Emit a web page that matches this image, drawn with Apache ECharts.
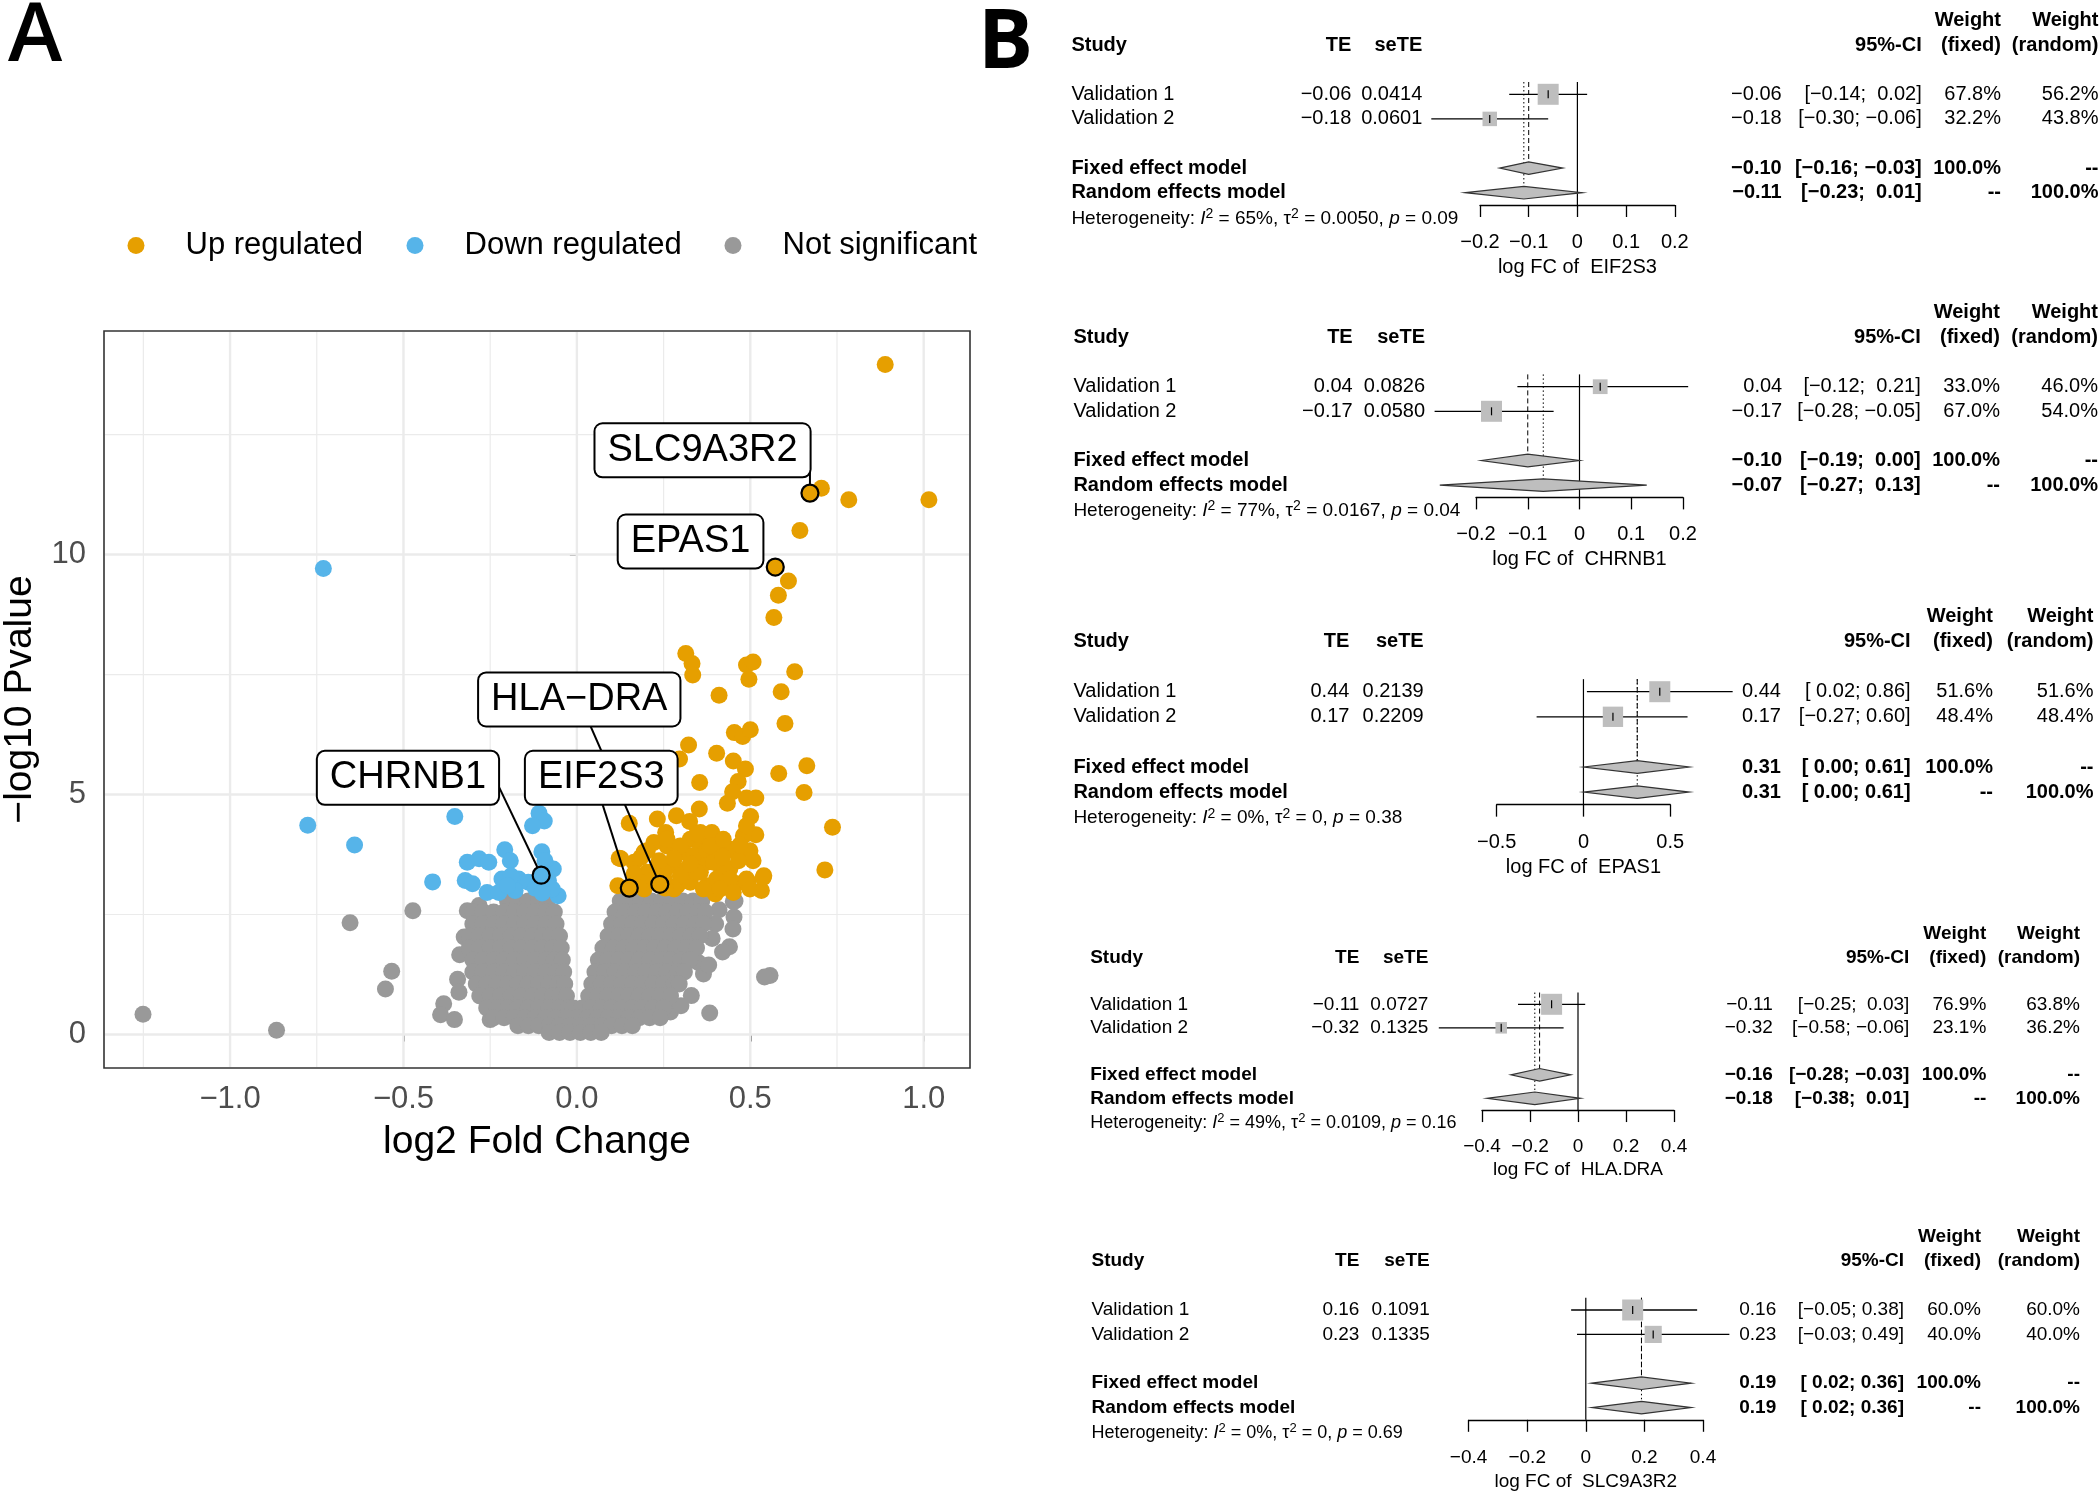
<!DOCTYPE html>
<html><head><meta charset="utf-8">
<script src="https://cdn.jsdelivr.net/npm/echarts@6/dist/echarts.min.js"></script>
<style>html,body{margin:0;padding:0;background:#fff}#c{width:2100px;height:1492px}</style>
</head><body><div id="c"></div>
<script>
// ================= DATA: volcano plot =================
const legendNames = ['Up regulated', 'Down regulated', 'Not significant'];
const upPoints = [
 [0.889,13.96],[0.705,11.38],[0.784,11.14],[1.015,11.14],[0.643,10.5],[0.61,9.45],[0.581,9.15],[0.568,8.69],
 [0.314,7.94],[0.332,7.73],[0.334,7.49],[0.489,7.70],[0.508,7.76],[0.496,7.40],[0.628,7.56],[0.41,7.07],[0.589,7.14],
 [0.60,6.48],[0.454,6.29],[0.478,6.21],[0.50,6.35],[0.322,6.03],[0.403,5.86],[0.296,5.74],[0.451,5.70],[0.486,5.53],
 [0.465,5.27],[0.582,5.44],[0.663,5.60],[0.354,5.25],[0.449,5.06],[0.434,4.82],[0.489,4.93],[0.516,4.93],[0.655,5.04],
 [0.353,4.70],[0.501,4.54],[0.287,4.56],[0.232,4.49],[0.325,4.44],[0.151,4.40],[0.737,4.32],[0.516,4.16],[0.715,3.43],
 [0.539,3.31],[0.532,3.0],[0.122,3.67],[0.165,3.59],[0.118,3.10],[0.494,3.17],
 [0.256,4.21],[0.26,3.93],[0.222,4.0],[0.194,3.80],[0.327,4.07],[0.356,4.21],[0.389,4.21],[0.356,3.93],[0.394,3.93],
 [0.437,3.86],[0.308,3.80],[0.337,3.66],[0.375,3.59],[0.413,3.52],[0.28,3.52],[0.308,3.38],[0.356,3.38],[0.403,3.24],
 [0.432,3.31],[0.46,3.14],[0.213,3.38],[0.251,3.24],[0.289,3.10],[0.327,3.17],[0.375,3.10],[0.399,2.93],[0.194,3.03],
 [0.489,3.24],[0.127,3.66],[0.203,3.83],[0.26,4.07],[0.298,3.93],[0.337,3.73],[0.346,4.18],[0.441,3.86],[0.375,3.86],
 [0.394,3.59],[0.441,3.45],[0.499,3.83],[0.508,3.62],[0.537,3.27],[0.184,3.69],[0.203,3.38],[0.251,3.38],[0.298,3.31],
 [0.346,3.38],[0.441,3.24],[0.489,3.17],[0.28,3.03],[0.365,3.03],[0.413,3.03],[0.451,2.96],[0.499,3.03],[0.184,3.17],
 [0.222,3.24],[0.327,3.55],[0.28,3.66],[0.384,3.93],[0.422,4.07],[0.48,4.14],[0.489,4.35],[0.165,3.35],[0.237,3.62],
 [0.466,3.62],[0.47,3.95],[0.255,3.05],[0.42,3.7]
];
const downPoints = [
 [-0.731,9.71],[-0.776,4.36],[-0.641,3.95],[-0.352,4.54],[-0.416,3.18],[-0.109,4.61],[-0.094,4.45],[-0.128,4.35],
 [-0.101,3.81],[-0.068,3.45],[-0.092,3.62],[-0.316,3.59],[-0.282,3.66],[-0.254,3.59],[-0.208,3.85],[-0.192,3.62],
 [-0.322,3.21],[-0.301,3.14],[-0.259,2.96],[-0.216,3.24],[-0.168,3.24],[-0.14,3.17],[-0.225,2.96],[-0.178,3.0],
 [-0.082,3.21],[-0.054,2.89],[-0.071,3.03],[-0.19,3.3],[-0.12,3.05],[-0.1,2.95],[-0.2,3.1]
];
// isolated non-significant points
const nsPoints = [
 [-1.251,0.42],[-0.866,0.09],[-0.654,2.33],[-0.473,2.58],[-0.534,1.32],[-0.552,0.95],[0.557,1.23],[0.541,1.2],[0.383,0.45],
 [-0.316,2.58],[-0.282,2.69],[-0.325,2.03],[-0.338,1.66],[-0.344,1.15],[-0.34,0.88],[-0.384,0.64],[-0.393,0.41],
 [-0.353,0.31],[-0.25,0.31],[0.456,2.78],[0.453,2.45],[0.45,2.2],[0.44,1.83],[0.42,1.72],[0.40,2.3],[0.41,2.6],
 [0.39,2.0],[0.365,1.26],[0.33,0.81],[0.27,0.47],[0.30,0.6],[0.35,1.5],[0.38,1.45],[0.451,2.77]
];
// dense non-significant cloud, read row by row: [y, [x values]]
const nsCloudRows = [
 [2.78, [-0.20,-0.17,-0.14,-0.11,-0.085]],
 [2.55, [-0.30,-0.27,-0.24,-0.21,-0.18,-0.15,-0.12,-0.09,-0.065]],
 [2.30, [-0.30,-0.27,-0.24,-0.21,-0.18,-0.15,-0.12,-0.09,-0.06]],
 [2.05, [-0.31,-0.28,-0.25,-0.22,-0.19,-0.16,-0.13,-0.10,-0.075,-0.05]],
 [1.80, [-0.31,-0.28,-0.25,-0.22,-0.19,-0.16,-0.13,-0.10,-0.07,-0.045]],
 [1.55, [-0.30,-0.27,-0.24,-0.21,-0.18,-0.15,-0.12,-0.09,-0.065,-0.042]],
 [1.30, [-0.30,-0.27,-0.24,-0.21,-0.18,-0.15,-0.12,-0.09,-0.06,-0.038]],
 [1.05, [-0.29,-0.26,-0.23,-0.20,-0.17,-0.14,-0.11,-0.08,-0.055,-0.035]],
 [0.80, [-0.28,-0.25,-0.22,-0.19,-0.16,-0.13,-0.10,-0.07,-0.05,-0.03]],
 [0.55, [-0.26,-0.23,-0.20,-0.17,-0.14,-0.11,-0.08,-0.05,-0.025,-0.01]],
 [2.78, [0.125,0.155,0.185,0.215,0.245,0.275,0.305,0.335,0.36]],
 [2.55, [0.11,0.14,0.17,0.20,0.23,0.26,0.29,0.32,0.35,0.37]],
 [2.30, [0.10,0.13,0.16,0.19,0.22,0.25,0.28,0.31,0.34,0.365]],
 [2.05, [0.09,0.12,0.15,0.18,0.21,0.24,0.27,0.30,0.33,0.355]],
 [1.80, [0.075,0.105,0.135,0.165,0.195,0.225,0.255,0.285,0.315,0.345]],
 [1.55, [0.062,0.09,0.12,0.15,0.18,0.21,0.24,0.27,0.30,0.325]],
 [1.30, [0.052,0.08,0.11,0.14,0.17,0.20,0.23,0.26,0.29,0.31]],
 [1.05, [0.043,0.07,0.10,0.13,0.16,0.19,0.22,0.25,0.28,0.295]],
 [0.80, [0.034,0.06,0.09,0.12,0.15,0.18,0.21,0.24,0.27]],
 [0.55, [0.015,0.04,0.07,0.10,0.13,0.16,0.19,0.22,0.25]],
 [0.35, [-0.24,-0.21,-0.18,-0.15,-0.12,-0.09,-0.06,-0.03,0,0.03,0.06,0.09,0.12,0.15,0.18,0.21,0.24]],
 [0.18, [-0.17,-0.14,-0.11,-0.08,-0.05,-0.02,0.01,0.04,0.07,0.10,0.13,0.16]],
 [0.04, [-0.08,-0.05,-0.02,0.01,0.04,0.07]]
];
const labelGenes = ['SLC9A3R2', 'EPAS1', 'HLA\u2212DRA', 'CHRNB1', 'EIF2S3'];
const labelX = [0.672, 0.572, 0.239, -0.103, 0.151];
const labelY = [11.28, 9.74, 3.13, 3.32, 3.05];
const labelClass = ['Up regulated', 'Up regulated', 'Up regulated', 'Down regulated', 'Up regulated'];
const volcanoXTicks = [-1, -0.5, 0, 0.5, 1];
const volcanoXMinor = [-1.25, -0.75, -0.25, 0.25, 0.75];
const volcanoYTicks = [0, 5, 10];
const volcanoYMinor = [2.5, 7.5, 12.5];

// ================= DATA: forest plots =================
const genes = ['EIF2S3', 'CHRNB1', 'EPAS1', 'HLA.DRA', 'SLC9A3R2'];
const studyNames = ['Validation 1', 'Validation 2'];
const studyTE = [[-0.06,-0.18],[0.04,-0.17],[0.44,0.17],[-0.11,-0.32],[0.16,0.23]];
const studySeTE = [[0.0414,0.0601],[0.0826,0.0580],[0.2139,0.2209],[0.0727,0.1325],[0.1091,0.1335]];
const studyLower = [[-0.14,-0.30],[-0.12,-0.28],[0.02,-0.27],[-0.25,-0.58],[-0.05,-0.03]];
const studyUpper = [[0.02,-0.06],[0.21,-0.05],[0.86,0.60],[0.03,-0.06],[0.38,0.49]];
const weightFixed = [[67.8,32.2],[33.0,67.0],[51.6,48.4],[76.9,23.1],[60.0,40.0]];
const weightRandom = [[56.2,43.8],[46.0,54.0],[51.6,48.4],[63.8,36.2],[60.0,40.0]];
const fixedEst = [-0.10,-0.10,0.31,-0.16,0.19];
const fixedLower = [-0.16,-0.19,0.00,-0.28,0.02];
const fixedUpper = [-0.03,0.00,0.61,-0.03,0.36];
const randomEst = [-0.11,-0.07,0.31,-0.18,0.19];
const randomLower = [-0.23,-0.27,0.00,-0.38,0.02];
const randomUpper = [0.01,0.13,0.61,0.01,0.36];
const hetI2 = ['65%','77%','0%','49%','0%'];
const hetTau2 = ['0.0050','0.0167','0','0.0109','0'];
const hetP = ['0.09','0.04','0.38','0.16','0.69'];
const forestMin = [-0.2,-0.2,-0.5,-0.4,-0.4];
const forestMax = [0.2,0.2,0.5,0.4,0.4];
const forestStep = [0.1,0.1,0.5,0.2,0.2];

// ================= LAYOUT / STYLE =================
const FONT = '"Liberation Sans", Arial, Helvetica, sans-serif';
const classColor = {'Up regulated':'#E69F00','Down regulated':'#56B4E9','Not significant':'#999999'};
const V = {left:99, top:331, width:871, height:737, xMin:-1.3635, xMax:1.1335, yMin:-0.698, yMax:14.658};
// label box layout relative to point (px): box centre offset, segment start offset (null = no segment)
const labelLayout = [
 {box:[-107.4,-42.8], seg:[0,-27]},
 {box:[-84.7,-25.5], seg:null},
 {box:[-80.5,-184.8], seg:[-72.2,-165]},
 {box:[-133.2,-97.3], seg:[-44.5,-93]},
 {box:[-28,-110.3], seg:[-28.4,-89]}
];
const forestLayout = [
 {left:1480, width:194.8, row1:94.3, sp:24.6, fs:20, hfs:19, tickGap:27, nameGap:52, cols:[1071.4,1351.3,1422.3,1781.7,1921.7,2001,2098.5]},
 {left:1476, width:207, row1:386.7, sp:24.6, fs:20, hfs:19, tickGap:27, nameGap:52, cols:[1073.4,1352.7,1425,1782.2,1920.7,2000,2098]},
 {left:1496.7, width:173.5, row1:691.7, sp:25.1, fs:20, hfs:19, tickGap:28, nameGap:53, cols:[1073.4,1349.4,1423.7,1780.9,1910.6,1993,2093.5]},
 {left:1482, width:192, row1:1004.3, sp:23.5, fs:19, hfs:18, tickGap:27, nameGap:50, cols:[1090.2,1359.4,1428.4,1772.8,1909.3,1986.3,2080]},
 {left:1468.6, width:234.4, row1:1310, sp:24.4, fs:19, hfs:18, tickGap:28, nameGap:52, cols:[1091.5,1359.4,1429.7,1776.2,1904,1981,2080]}
];

// ================= BUILD =================
const MINUS = '\u2212';
function fnum(v, d){ return (v < 0 ? MINUS : '') + Math.abs(v).toFixed(d); }
// R-style padding: non-negative bounds get a leading space when the column also holds negatives
function fci(lo, hi, padLo, padHi){
  return '[' + (padLo && lo >= 0 ? ' ' : '') + fnum(lo,2) + ';' + (padHi && hi >= 0 ? '  ' : ' ') + fnum(hi,2) + ']';
}

const nsAll = nsPoints.slice();
nsCloudRows.forEach(r => r[1].forEach(x => nsAll.push([x, r[0]])));

const grids = [{left:V.left, top:V.top, width:V.width, height:V.height, show:true, borderColor:'#333333', borderWidth:1.6, backgroundColor:'rgba(0,0,0,0)'}];
const xAxes = [{
  gridIndex:0, type:'value', min:V.xMin, max:V.xMax,
  axisLine:{show:false}, splitLine:{show:false},
  axisTick:{show:true, customValues:volcanoXTicks, length:7, lineStyle:{color:'#333333', width:1.6}},
  axisLabel:{customValues:volcanoXTicks, fontSize:31, color:'#4D4D4D', fontFamily:FONT, margin:16,
    formatter: v => fnum(v,1)},
  name:'log2 Fold Change', nameLocation:'middle', nameGap:55,
  nameTextStyle:{fontSize:39, color:'#000', fontFamily:FONT}
}];
const yAxes = [{
  gridIndex:0, type:'value', min:V.yMin, max:V.yMax,
  axisLine:{show:false}, splitLine:{show:false},
  axisTick:{show:true, customValues:volcanoYTicks, length:7, lineStyle:{color:'#333333', width:1.6}},
  axisLabel:{customValues:volcanoYTicks, fontSize:31, color:'#4D4D4D', fontFamily:FONT, margin:18,
    formatter: v => String(v)},
  name:MINUS + 'log10 Pvalue', nameLocation:'middle', nameGap:64, nameRotate:90,
  nameTextStyle:{fontSize:39, color:'#000', fontFamily:FONT}
}];

const gridLineData = [];
volcanoXTicks.forEach(v => gridLineData.push([v, 0, 0]));
volcanoXMinor.forEach(v => gridLineData.push([v, 0, 1]));
volcanoYTicks.forEach(v => gridLineData.push([0, v, 2]));
volcanoYMinor.forEach(v => gridLineData.push([0, v, 3]));

const series = [];
series.push({
  type:'custom', name:'grid', xAxisIndex:0, yAxisIndex:0, z:1, silent:true, clip:true,
  data:gridLineData,
  renderItem:(params, api) => {
    const cs = params.coordSys; const k = api.value(2);
    const p = api.coord([api.value(0), api.value(1)]);
    const w = (k === 0 || k === 2) ? 2.4 : 1.2;
    const shape = (k < 2) ? {x1:p[0], y1:cs.y+1, x2:p[0], y2:cs.y+cs.height-1}
                          : {x1:cs.x+1, y1:p[1], x2:cs.x+cs.width-1, y2:p[1]};
    return {type:'line', shape:shape, style:{stroke:'#EBEBEB', lineWidth:w}};
  }
});
series.push({type:'scatter', name:'Not significant', xAxisIndex:0, yAxisIndex:0, z:2, symbolSize:17,
  itemStyle:{color:classColor['Not significant'], opacity:1}, data:nsAll});
series.push({type:'scatter', name:'Down regulated', xAxisIndex:0, yAxisIndex:0, z:3, symbolSize:17,
  itemStyle:{color:classColor['Down regulated'], opacity:1}, data:downPoints});
series.push({type:'scatter', name:'Up regulated', xAxisIndex:0, yAxisIndex:0, z:3, symbolSize:17,
  itemStyle:{color:classColor['Up regulated'], opacity:1}, data:upPoints});
series.push({type:'scatter', name:'labelled', xAxisIndex:0, yAxisIndex:0, z:4, symbolSize:17,
  data:labelX.map((x,i) => ({value:[x, labelY[i]], itemStyle:{color:classColor[labelClass[i]], borderColor:'#000', borderWidth:2.2, opacity:1}}))});
series.push({
  type:'custom', name:'labels', xAxisIndex:0, yAxisIndex:0, z:5, clip:false, silent:true,
  data:labelX.map((x,i) => [x, labelY[i]]),
  renderItem:(params, api) => {
    const i = params.dataIndex; const L = labelLayout[i];
    const p = api.coord([api.value(0), api.value(1)]);
    const children = [];
    if (L.seg) {
      const sx = p[0] + L.seg[0], sy = p[1] + L.seg[1];
      const dx = p[0]-sx, dy = p[1]-sy, len = Math.sqrt(dx*dx+dy*dy);
      children.push({type:'line', shape:{x1:sx, y1:sy, x2:p[0]-dx/len*9, y2:p[1]-dy/len*9},
        style:{stroke:'#000', lineWidth:2}});
    }
    children.push({type:'text', x:p[0]+L.box[0], y:p[1]+L.box[1], style:{
      text:labelGenes[i], fontSize:38, fontFamily:FONT, fill:'#000', align:'center', verticalAlign:'middle',
      backgroundColor:'#fff', borderColor:'#000', borderWidth:2, borderRadius:7, padding:[7,12]}});
    return {type:'group', children:children};
  }
});

const graphics = [];
graphics.push({type:'text', x:8, y:38, style:{text:'A', fontSize:82, fontWeight:600, fontFamily:'"Open Sans", sans-serif', fill:'#000', align:'left', verticalAlign:'middle'}});
graphics.push({type:'text', x:978, y:45, style:{text:'B', fontSize:82, fontWeight:700, fontFamily:'"Open Sans", sans-serif', fill:'#000', align:'left', verticalAlign:'middle'}});

function addText(x, y, text, fs, bold, align){
  graphics.push({type:'text', x:x, y:y, silent:true, style:{text:text, fontSize:fs, fontWeight:bold?'bold':'normal',
    fontFamily:FONT, fill:'#000', align:align, verticalAlign:'middle'}});
}

genes.forEach((g, k) => {
  const L = forestLayout[k];
  const gi = k + 1;
  grids.push({left:L.left, top:L.row1 - 0.5*L.sp, width:L.width, height:5*L.sp, show:false});
  xAxes.push({
    gridIndex:gi, type:'value', min:forestMin[k], max:forestMax[k], interval:forestStep[k],
    axisLine:{show:true, onZero:false, lineStyle:{color:'#000', width:1.3}},
    axisTick:{show:true, length:12, lineStyle:{color:'#000', width:1.3}},
    splitLine:{show:false},
    axisLabel:{fontSize:L.fs, color:'#000', fontFamily:FONT, margin:L.tickGap,
      formatter: v => Math.abs(v) < 1e-9 ? '0' : fnum(v,1)},
    name:'log FC of  ' + g, nameLocation:'middle', nameGap:L.nameGap,
    nameTextStyle:{fontSize:L.fs, color:'#000', fontFamily:FONT}
  });
  yAxes.push({gridIndex:gi, type:'value', min:0.5, max:5.5, inverse:true, show:false});

  const wmax = Math.max.apply(null, weightFixed[k]);
  const data = [];
  data.push([0, 5.5, 0, 0, 0, 4]);
  data.push([fixedEst[k], 4, 0, 0, 0, 2]);
  data.push([randomEst[k], 5, 0, 0, 0, 3]);
  for (let i = 0; i < 2; i++) data.push([studyTE[k][i], i+1, studyLower[k][i], studyUpper[k][i], weightFixed[k][i], 0]);
  data.push([fixedEst[k], 4, fixedLower[k], fixedUpper[k], 0, 1]);
  data.push([randomEst[k], 5, randomLower[k], randomUpper[k], 0, 1]);
  series.push({
    type:'custom', name:'forest ' + g, xAxisIndex:gi, yAxisIndex:gi, clip:false, silent:true, z:2,
    data:data,
    renderItem:(params, api) => {
      const kind = api.value(5); const x = api.value(0); const row = api.value(1);
      const p = api.coord([x, row]);
      const dh = 6.3;
      if (kind === 4 || kind === 2 || kind === 3) {
        const top = api.coord([x, 0.5])[1];
        const bot = kind === 4 ? p[1] : p[1] - dh;
        const dash = kind === 2 ? [5,3] : (kind === 3 ? [1.5,2.5] : null);
        return {type:'line', shape:{x1:p[0], y1:top, x2:p[0], y2:bot},
          style:{stroke:'#000', lineWidth:kind === 4 ? 1.2 : 1, lineDash:dash}};
      }
      const lo = api.coord([api.value(2), row]); const hi = api.coord([api.value(3), row]);
      if (kind === 0) {
        const s = 21 * Math.sqrt(api.value(4) / wmax);
        return {type:'group', children:[
          {type:'line', shape:{x1:lo[0], y1:p[1], x2:hi[0], y2:p[1]}, style:{stroke:'#000', lineWidth:1.3}},
          {type:'rect', shape:{x:p[0]-s/2, y:p[1]-s/2, width:s, height:s}, style:{fill:'#BEBEBE'}},
          {type:'line', shape:{x1:p[0], y1:p[1]-4, x2:p[0], y2:p[1]+4}, style:{stroke:'#000', lineWidth:1.2}}
        ]};
      }
      return {type:'polygon', shape:{points:[[lo[0],p[1]],[p[0],p[1]-dh],[hi[0],p[1]],[p[0],p[1]+dh]]},
        style:{fill:'#BEBEBE', stroke:'#333', lineWidth:1.2}};
    }
  });

  // table texts
  const c = L.cols, fs = L.fs;
  const ry = r => L.row1 + (r - 1) * L.sp;
  const allLo = studyLower[k].concat([fixedLower[k], randomLower[k]]);
  const allHi = studyUpper[k].concat([fixedUpper[k], randomUpper[k]]);
  const padLo = allLo.some(v => v < 0), padHi = allHi.some(v => v < 0);
  addText(c[5], ry(-2), 'Weight', fs, true, 'right');
  addText(c[6], ry(-2), 'Weight', fs, true, 'right');
  addText(c[0], ry(-1), 'Study', fs, true, 'left');
  addText(c[1], ry(-1), 'TE', fs, true, 'right');
  addText(c[2], ry(-1), 'seTE', fs, true, 'right');
  addText(c[4], ry(-1), '95%-CI', fs, true, 'right');
  addText(c[5], ry(-1), '(fixed)', fs, true, 'right');
  addText(c[6], ry(-1), '(random)', fs, true, 'right');
  for (let i = 0; i < 2; i++) {
    const y = ry(i+1);
    addText(c[0], y, studyNames[i], fs, false, 'left');
    addText(c[1], y, fnum(studyTE[k][i],2), fs, false, 'right');
    addText(c[2], y, studySeTE[k][i].toFixed(4), fs, false, 'right');
    addText(c[3], y, fnum(studyTE[k][i],2), fs, false, 'right');
    addText(c[4], y, fci(studyLower[k][i], studyUpper[k][i], padLo, padHi), fs, false, 'right');
    addText(c[5], y, weightFixed[k][i].toFixed(1) + '%', fs, false, 'right');
    addText(c[6], y, weightRandom[k][i].toFixed(1) + '%', fs, false, 'right');
  }
  addText(c[0], ry(4), 'Fixed effect model', fs, true, 'left');
  addText(c[3], ry(4), fnum(fixedEst[k],2), fs, true, 'right');
  addText(c[4], ry(4), fci(fixedLower[k], fixedUpper[k], padLo, padHi), fs, true, 'right');
  addText(c[5], ry(4), '100.0%', fs, true, 'right');
  addText(c[6], ry(4), '--', fs, true, 'right');
  addText(c[0], ry(5), 'Random effects model', fs, true, 'left');
  addText(c[3], ry(5), fnum(randomEst[k],2), fs, true, 'right');
  addText(c[4], ry(5), fci(randomLower[k], randomUpper[k], padLo, padHi), fs, true, 'right');
  addText(c[5], ry(5), '--', fs, true, 'right');
  addText(c[6], ry(5), '100.0%', fs, true, 'right');
  const h = L.hfs;
  graphics.push({type:'text', x:c[0], y:ry(6)+1, silent:true, style:{
    text:'Heterogeneity: {it|I}{sup|2} = ' + hetI2[k] + ', \u03C4{sup|2} = ' + hetTau2[k] + ', {it|p} = ' + hetP[k],
    fontSize:h, fontFamily:FONT, fill:'#000', align:'left', verticalAlign:'middle',
    rich:{it:{fontStyle:'italic', fontSize:h, fontFamily:FONT, fill:'#000'},
          sup:{fontSize:Math.round(h*0.72), fontFamily:FONT, fill:'#000', verticalAlign:'top', lineHeight:h+4}}
  }});
});

const legendBase = {orient:'horizontal', icon:'circle', itemWidth:17, itemHeight:17, selectedMode:false, padding:0,
  textStyle:{fontSize:31, color:'#000', fontFamily:FONT, padding:[0,0,0,36]}};
const legendLeft = [127.5, 406.5, 724.5];
const legends = legendNames.map((n, i) => Object.assign({}, legendBase, {data:[n], left:legendLeft[i], top:230}));

const chart = echarts.init(document.getElementById('c'), null, {renderer:'canvas', width:2100, height:1492});
chart.setOption({
  animation:false,
  backgroundColor:'#ffffff',
  textStyle:{fontFamily:FONT},
  grid:grids, xAxis:xAxes, yAxis:yAxes, legend:legends, series:series, graphic:graphics
});
</script>
</body></html>
